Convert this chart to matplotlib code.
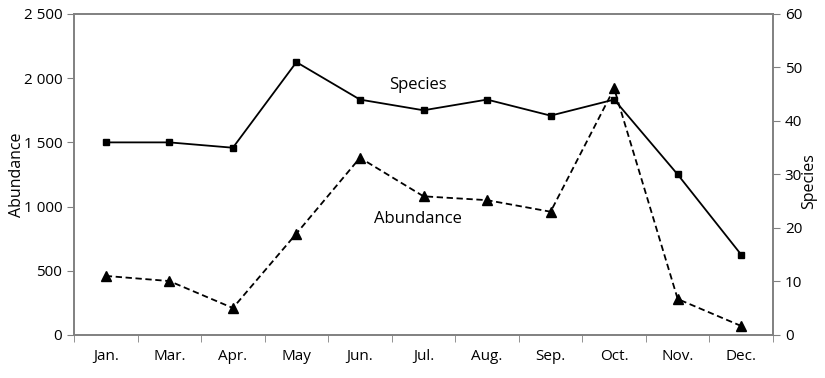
import matplotlib.pyplot as plt
import numpy as np

plt.rcParams['font.family'] = ['Open Sans', 'DejaVu Sans']

months = ['Jan.', 'Mar.', 'Apr.', 'May', 'Jun.', 'Jul.', 'Aug.', 'Sep.', 'Oct.', 'Nov.', 'Dec.']
abundance = [460, 420, 210, 790, 1380, 1080, 1050, 960, 1920, 280, 70]
species = [36, 36, 35, 51, 44, 42, 44, 41, 44, 30, 15]

grey = '#808080'
x = np.arange(len(months))

fig = plt.figure(figsize=(8.25, 3.78), dpi=100)
ax = fig.add_axes([0.0897, 0.1138, 0.8473, 0.8492])
ax2 = ax.twinx()

# abundance, dashed with triangles
ax.plot(x, abundance, color='black', linestyle=(0, (3.5, 2)), linewidth=1.3,
        marker='^', markersize=6.5)
# species, solid with squares
ax2.plot(x, species, color='black', linestyle='-', linewidth=1.3,
         marker='s', markersize=5)

ax.set_xlim(-0.5, len(months) - 0.5)
ax.set_ylim(0, 2500)
ax2.set_ylim(0, 60)

ax.set_xticks(x)
ax.set_xticklabels(months, fontsize=11)
ax.set_xticks(np.arange(-0.5, len(months)), minor=True)
ax.tick_params(axis='x', which='major', length=0, pad=10)
ax.tick_params(axis='x', which='minor', length=5, color=grey, direction='out')

ax.set_yticks(np.arange(0, 2501, 500))
ax.set_yticklabels(['0', '500', '1 000', '1 500', '2 000', '2 500'], fontsize=11)
ax.tick_params(axis='y', length=5, color=grey, direction='out')
ax2.set_yticks(np.arange(0, 61, 10))
ax2.tick_params(axis='y', length=5, color=grey, direction='out', labelsize=11)

ax.set_ylabel('Abundance', fontsize=11.5)
ax2.set_ylabel('Species', fontsize=11.5)
ax.yaxis.set_label_coords(-0.07, 0.5)
ax2.yaxis.set_label_coords(1.04, 0.48)

for a in (ax, ax2):
    for s in a.spines.values():
        s.set_color(grey)
        s.set_linewidth(1.2)

ax2.text(4.92, 46.7, 'Species', fontsize=12, ha='center', va='center')
ax.text(4.92, 903, 'Abundance', fontsize=12, ha='center', va='center')

plt.savefig('out.png', dpi=100)
